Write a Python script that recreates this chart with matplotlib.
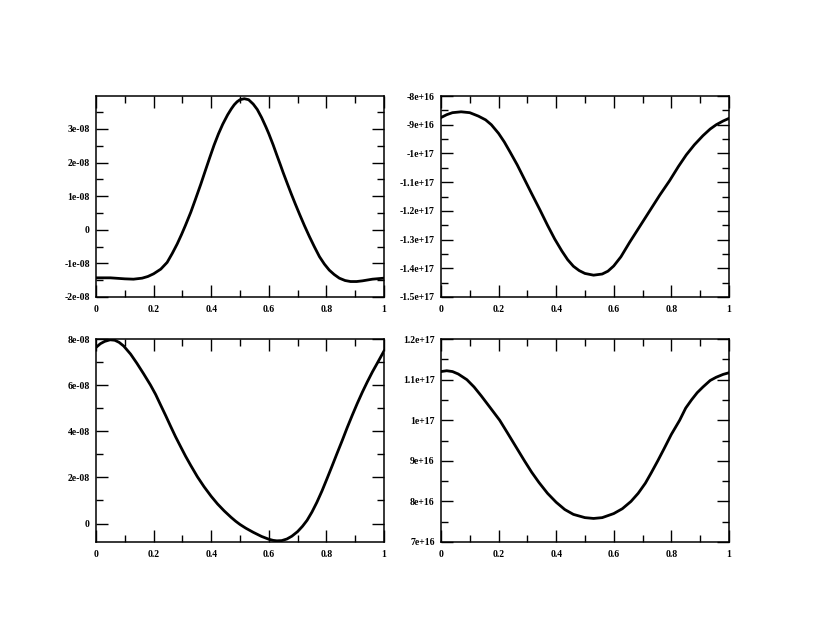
import matplotlib
matplotlib.use('Agg')
import matplotlib.pyplot as plt
import numpy as np
from matplotlib.ticker import MultipleLocator, FuncFormatter

# curve values (x in [0, 1])
tl_x = [0, 0.05, 0.1, 0.13, 0.16, 0.18, 0.2, 0.225, 0.247, 0.265, 0.282, 0.297,
        0.31, 0.329, 0.345, 0.364, 0.38, 0.395, 0.41, 0.425, 0.44, 0.457, 0.47,
        0.48, 0.49, 0.5, 0.515, 0.53, 0.546, 0.56, 0.575, 0.59, 0.6, 0.615,
        0.628, 0.64, 0.65, 0.665, 0.678, 0.692, 0.707, 0.724, 0.741, 0.758,
        0.776, 0.793, 0.81, 0.827, 0.845, 0.865, 0.884, 0.905, 0.925, 0.96, 1.0]
tl_y = np.array([-1.43, -1.43, -1.46, -1.47, -1.44, -1.39, -1.31, -1.17, -0.97,
                 -0.7, -0.42, -0.14, 0.12, 0.52, 0.9, 1.36, 1.77, 2.15, 2.52,
                 2.85, 3.14, 3.42, 3.6, 3.72, 3.81, 3.87, 3.90, 3.87, 3.74,
                 3.58, 3.34, 3.06, 2.86, 2.53, 2.22, 1.94, 1.7, 1.36, 1.07,
                 0.77, 0.46, 0.12, -0.2, -0.5, -0.8, -1.02, -1.2, -1.33,
                 -1.44, -1.51, -1.54, -1.54, -1.52, -1.47, -1.44]) * 1e-8

tr_x = [0, 0.02, 0.04, 0.07, 0.1, 0.13, 0.155, 0.175, 0.2, 0.22, 0.24, 0.265,
        0.29, 0.315, 0.343, 0.37, 0.395, 0.42, 0.44, 0.46, 0.48, 0.5, 0.53,
        0.56, 0.58, 0.6, 0.625, 0.655, 0.69, 0.725, 0.76, 0.794, 0.825, 0.852,
        0.88, 0.91, 0.935, 0.956, 0.98, 1.0]
tr_y = np.array([-8.75, -8.65, -8.58, -8.55, -8.58, -8.7, -8.83, -9.0, -9.3,
                 -9.6, -9.95, -10.4, -10.9, -11.4, -11.95, -12.5, -12.98,
                 -13.4, -13.7, -13.93, -14.08, -14.18, -14.24, -14.2, -14.1,
                 -13.92, -13.6, -13.1, -12.55, -12.0, -11.45, -10.95, -10.45,
                 -10.05, -9.7, -9.38, -9.15, -9.0, -8.87, -8.78]) * 1e16

bl_x = [0, 0.015, 0.03, 0.049, 0.065, 0.08, 0.096, 0.12, 0.142, 0.165, 0.189,
        0.207, 0.224, 0.242, 0.259, 0.276, 0.294, 0.311, 0.329, 0.352, 0.375,
        0.4, 0.422, 0.445, 0.469, 0.485, 0.5, 0.52, 0.546, 0.575, 0.6, 0.615,
        0.628, 0.645, 0.663, 0.68, 0.7, 0.717, 0.733, 0.75, 0.767, 0.785,
        0.802, 0.82, 0.837, 0.855, 0.872, 0.89, 0.907, 0.925, 0.942, 0.96,
        0.977, 1.0]
bl_y = np.array([7.64, 7.8, 7.9, 7.97, 7.95, 7.86, 7.7, 7.35, 6.95, 6.5, 6.01,
                 5.6, 5.15, 4.68, 4.22, 3.77, 3.33, 2.92, 2.52, 2.03, 1.6,
                 1.18, 0.85, 0.55, 0.27, 0.1, -0.04, -0.2, -0.38, -0.56,
                 -0.68, -0.73, -0.75, -0.74, -0.67, -0.55, -0.35, -0.12, 0.14,
                 0.5, 0.92, 1.42, 1.94, 2.5, 3.04, 3.6, 4.15, 4.7, 5.2, 5.7,
                 6.14, 6.58, 6.96, 7.48]) * 1e-8

br_x = [0, 0.02, 0.04, 0.06, 0.09, 0.115, 0.14, 0.17, 0.204, 0.23, 0.26, 0.29,
        0.315, 0.34, 0.37, 0.4, 0.43, 0.46, 0.5, 0.53, 0.56, 0.6, 0.63, 0.66,
        0.685, 0.71, 0.73, 0.753, 0.775, 0.8, 0.829, 0.85, 0.87, 0.89, 0.91,
        0.935, 0.956, 0.98, 1.0]
br_y = np.array([11.2, 11.22, 11.2, 11.14, 11.0, 10.82, 10.6, 10.32, 10.0,
                 9.7, 9.35, 9.0, 8.72, 8.47, 8.2, 7.98, 7.8, 7.68, 7.6, 7.58,
                 7.6, 7.7, 7.82, 8.0, 8.2, 8.45, 8.7, 9.0, 9.3, 9.65, 10.0,
                 10.3, 10.5, 10.68, 10.82, 10.98, 11.06, 11.13, 11.17]) * 1e16

panels = [
    # x, y, rect, ylim, major, minor
    (tl_x, tl_y, [0.1164, 0.5345, 0.349, 0.315], (-2e-8, 3.98e-8), 1e-8, 5e-9),
    (tr_x, tr_y, [0.5345, 0.5345, 0.349, 0.315], (-1.5e17, -8e16), 1e16, 5e15),
    (bl_x, bl_y, [0.1164, 0.1505, 0.349, 0.318], (-0.8e-8, 8e-8), 2e-8, 1e-8),
    (br_x, br_y, [0.5345, 0.1505, 0.349, 0.318], (7e16, 1.2e17), 1e16, 5e15),
]

fmt = FuncFormatter(lambda v, pos: '%g' % v)

fig = plt.figure(figsize=(8.25, 6.38), dpi=100)

for x, y, rect, ylim, major, minor in panels:
    ax = fig.add_axes(rect)
    ax.plot(x, y, color='black', linewidth=2.0, solid_joinstyle='round')
    ax.set_xlim(0, 1)
    ax.set_ylim(*ylim)
    ax.xaxis.set_major_locator(MultipleLocator(0.2))
    ax.xaxis.set_minor_locator(MultipleLocator(0.1))
    ax.yaxis.set_major_locator(MultipleLocator(major))
    ax.yaxis.set_minor_locator(MultipleLocator(minor))
    ax.xaxis.set_major_formatter(fmt)
    ax.yaxis.set_major_formatter(fmt)
    ax.tick_params(which='both', direction='in', top=True, right=True,
                   width=1.0, color='black')
    ax.tick_params(which='major', length=8.5)
    ax.tick_params(which='minor', length=4.8)
    ax.tick_params(axis='y', which='major', pad=4.5)
    ax.tick_params(axis='x', which='major', pad=5.5)
    for lab in ax.get_xticklabels() + ax.get_yticklabels():
        lab.set_fontfamily('Liberation Serif')
        lab.set_fontweight('bold')
        lab.set_fontsize(7)
    for sp in ax.spines.values():
        sp.set_linewidth(1.1)

fig.savefig('out.png', dpi=100)
